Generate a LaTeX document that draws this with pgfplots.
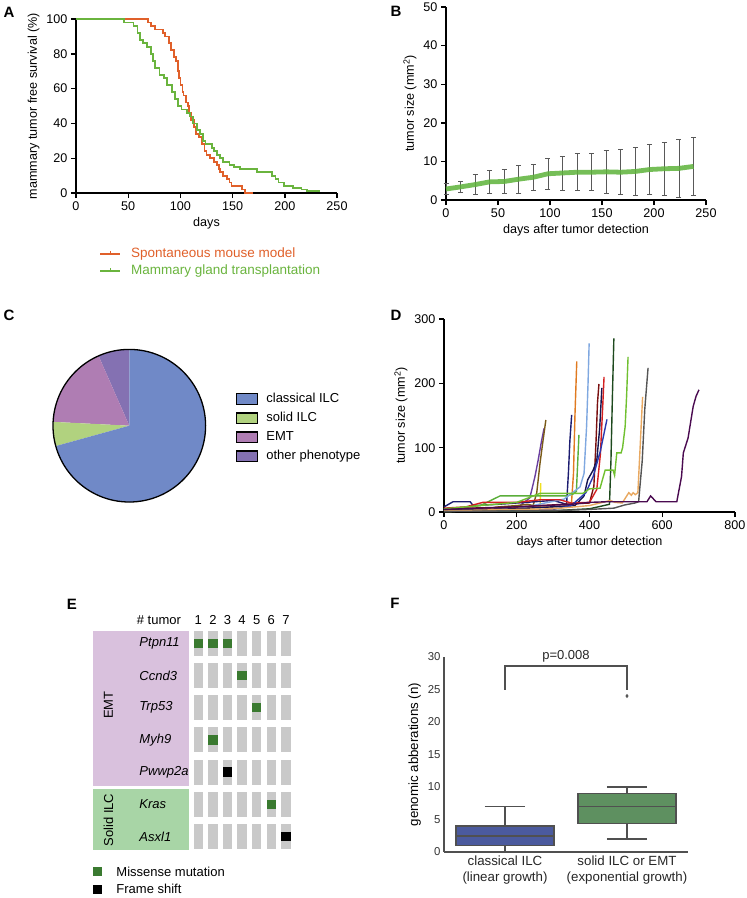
\documentclass[border=0pt]{standalone}
\usepackage{pgfplots}
\pgfplotsset{compat=1.18}
\usepgfplotslibrary{statistics}
\usepackage{fontspec}
\setmainfont{Liberation Sans}

\definecolor{Ared}{HTML}{E0602A}
\definecolor{Agreen}{HTML}{6AB43E}
\definecolor{Bgreen}{HTML}{5DB33A}
\definecolor{Cblue}{HTML}{7089C7}
\definecolor{Cgreen}{HTML}{B1D27F}
\definecolor{Cpink}{HTML}{AF7DB3}
\definecolor{Cviolet}{HTML}{8471B2}
\definecolor{Dpurple}{HTML}{6A3FA0}
\definecolor{Dbrown}{HTML}{7A5A18}
\definecolor{Dyellow}{HTML}{F0E020}
\definecolor{Dnavy}{HTML}{1C1C70}
\definecolor{Dorange}{HTML}{E07A20}
\definecolor{Dgreen}{HTML}{5AAE3A}
\definecolor{Dlblue}{HTML}{7FA8E0}
\definecolor{Dmaroon}{HTML}{7A1010}
\definecolor{Dred}{HTML}{D42020}
\definecolor{Dblue}{HTML}{2A3AB0}
\definecolor{Dnavyb}{HTML}{151550}
\definecolor{Ddgreen}{HTML}{1E4A1E}
\definecolor{Dlime}{HTML}{70C030}
\definecolor{Dtan}{HTML}{E8A860}
\definecolor{Dgray}{HTML}{555555}
\definecolor{Ddpurple}{HTML}{4A0A50}
\definecolor{Epurple}{HTML}{D9C1DD}
\definecolor{Egreen}{HTML}{A8D5A6}
\definecolor{Egray}{HTML}{C9C9C9}
\definecolor{Emiss}{HTML}{3A7A30}
\definecolor{Fblue}{HTML}{4B5A9E}
\definecolor{Fgreen}{HTML}{5E9060}
\definecolor{Fline}{HTML}{505050}

\newcommand\ft{\fontsize{12.6pt}{15pt}\selectfont}
\newcommand\fl{\fontsize{13pt}{15.6pt}\selectfont}
\newcommand\fa{\fontsize{13.5pt}{16pt}\selectfont}
\newcommand\fe{\fontsize{13pt}{15.6pt}\selectfont}
\newcommand\ff{\fontsize{11.4pt}{13.5pt}\selectfont}
\newcommand\fx{\fontsize{13.3pt}{16pt}\selectfont}
\newcommand\fp{\fontsize{15pt}{18pt}\selectfont\bfseries}

\pgfplotsset{
  panel/.style={
    scale only axis, axis lines=left, enlargelimits=false,
    axis line style={-, line width=1.4pt},
    tick align=outside, major tick length=5pt,
    tick style={line width=1.4pt, black},
    tick label style={font=\ft}, label style={font=\ft},
    /pgf/number format/assume math mode=true,
    clip=false,
  },
}

% panel B: mean tumour size with SD
\pgfplotstableread{
x y e
0 2.85 1.35
14 3.4 1.4
28 4.0 2.6
42 4.7 3.0
56 4.8 3.2
70 5.4 3.6
84 5.9 3.4
98 6.8 4.1
112 7.0 4.4
126 7.2 4.8
140 7.2 4.8
154 7.3 5.5
168 7.2 5.8
182 7.4 6.2
196 7.9 6.5
210 8.1 6.8
224 8.2 7.6
238 8.7 7.6
}\growthB

% panel C: phenotype shares (%)
\def\pClassical{70.7}
\def\pSolid{5.1}
\def\pEMT{17.6}
\def\pOther{6.6}

\begin{document}
\begin{tikzpicture}
\useasboundingbox (0,0) rectangle (747pt,-898pt);

% ---------------- A ----------------
\begin{axis}[panel, at={(76pt,-193pt)}, anchor=south west,
  width=261pt, height=174pt,
  xmin=0, xmax=250, ymin=0, ymax=100,
  xtick={0,50,...,250}, ytick={0,20,...,100},
  xlabel={days}, ylabel={mammary tumor free survival (\%)},
  legend style={at={(0.088,-0.316)}, anchor=north west, draw=none, fill=none,
    font=\fa, inner sep=0pt, row sep=5pt,
    nodes={inner sep=0pt, text height=9.5pt, text depth=2.5pt}},
  legend cell align=left,
  /tikz/every odd column/.append style={column sep=10pt},
  legend image code/.code={
    \draw[#1, line width=2pt] (0pt,0pt) -- (20pt,0pt);
    \draw[#1, line width=1pt] (10pt,-1pt) -- (10pt,3pt);},
]
\addplot[const plot, Ared, line width=1.8pt] coordinates {
(0,100) (69,98) (72,96) (76,94) (83,92) (85,90) (89,86) (91,82) (94,78)
(96,76) (98,70) (99,66) (100,62) (102,58) (103,56) (105,52) (107,50)
(108,46) (110,42) (113,38) (115,34) (118,32) (121,28) (123,24) (125,22)
(128,20) (132,18) (135,16) (137,14) (138,12) (141,10) (145,8) (147,6)
(149,4) (159,2) (162,0) (170,0)};
\addlegendentry{\textcolor{Ared}{Spontaneous mouse model}}
\addplot[const plot, Agreen, line width=1.8pt] coordinates {
(0,100) (46,98) (55,96) (59,92) (61,88) (64,86) (68,84) (72,80) (74,76)
(76,72) (80,68) (84,66) (87,62) (92,58) (95,54) (98,50) (101,48) (106,46)
(109,44) (112,40) (116,36) (119,34) (122,30) (124,28) (130,26) (132,24)
(135,22) (138,20) (141,18) (147,16) (151,15) (157,14) (173,12) (188,10)
(191,8) (194,6) (199,4) (208,3) (216,2) (221,1) (234,1)};
\addlegendentry{\textcolor{Agreen}{Mammary gland transplantation}}
\end{axis}

% ---------------- B ----------------
\begin{axis}[panel, at={(446pt,-200pt)}, anchor=south west,
  width=260pt, height=193pt,
  xmin=0, xmax=250, ymin=0, ymax=50,
  xtick={0,50,...,250}, ytick={0,10,...,50},
  xlabel={days after tumor detection}, ylabel={tumor size (mm\textsuperscript{2})},
]
\addplot[draw=none, mark=none, forget plot,
  error bars/.cd, y dir=both, y explicit,
  error bar style={draw=black!65, line width=0.7pt, solid},
  error mark options={rotate=90, mark size=2.5pt, draw=black!65, line width=0.7pt}]
  table[x=x, y=y, y error=e] {\growthB};
\addplot[Bgreen, line width=4.8pt, opacity=0.85] table[x=x, y=y] {\growthB};
\end{axis}

% ---------------- C ----------------
\begin{axis}[hide axis, scale only axis, clip=false,
  at={(129.3pt,-425.7pt)}, anchor=center, width=152.6pt, height=152.6pt,
  xmin=-1, xmax=1, ymin=-1, ymax=1,
  legend style={at={(1.199,0.714)}, anchor=north west, draw=none, fill=none,
    font=\fl, inner sep=0pt, row sep=7.2pt,
    nodes={inner sep=0pt, text height=9pt, text depth=2.5pt}},
  legend cell align=left,
  /tikz/every odd column/.append style={column sep=8pt},
  legend image code/.code={\draw[#1, draw=black, line width=1.2pt] (0pt,-5pt) rectangle (21pt,5.5pt);},
]
\pgfmathsetmacro\aA{90}
\pgfmathsetmacro\aB{\aA+3.6*\pOther}
\pgfmathsetmacro\aC{\aB+3.6*\pEMT}
\pgfmathsetmacro\aD{\aC+3.6*\pSolid}
\pgfmathsetmacro\aE{\aD+3.6*\pClassical}
\fill[Cviolet] (axis cs:0,0) -- ++(\aA:76.3pt) arc[start angle=\aA, end angle=\aB, radius=76.3pt] -- cycle;
\fill[Cpink] (axis cs:0,0) -- ++(\aB:76.3pt) arc[start angle=\aB, end angle=\aC, radius=76.3pt] -- cycle;
\fill[Cgreen] (axis cs:0,0) -- ++(\aC:76.3pt) arc[start angle=\aC, end angle=\aD, radius=76.3pt] -- cycle;
\fill[Cblue] (axis cs:0,0) -- ++(\aD:76.3pt) arc[start angle=\aD, end angle=\aE, radius=76.3pt] -- cycle;
\draw[line width=1.3pt] (axis cs:0,0) circle[radius=76.3pt];
\addlegendimage{fill=Cblue}\addlegendentry{classical ILC}
\addlegendimage{fill=Cgreen}\addlegendentry{solid ILC}
\addlegendimage{fill=Cpink}\addlegendentry{EMT}
\addlegendimage{fill=Cviolet}\addlegendentry{other phenotype}
\end{axis}

% ---------------- D ----------------
\begin{axis}[panel, at={(444pt,-512pt)}, anchor=south west,
  width=291pt, height=193pt,
  xmin=0, xmax=800, ymin=0, ymax=300,
  xtick={0,200,...,800}, ytick={0,100,200,300},
  xlabel={days after tumor detection}, ylabel={tumor size (mm\textsuperscript{2})},
  every axis plot/.append style={line width=1.4pt, mark=none},
]
\addplot[Dyellow] coordinates {(0,1) (200,2) (264,3) (266,45)};
\addplot[Dpurple] coordinates {(0,3) (100,5) (200,6) (236,22) (250,55) (259,81) (268,110) (275,130)};
\addplot[Dbrown] coordinates {(0,2) (100,3) (150,8) (200,10) (230,12) (245,10) (255,30) (264,76) (272,110) (280,143)};
\addplot[Dnavy] coordinates {(0,8) (25,16) (72,16) (80,10) (150,12) (250,16) (300,18) (337,12) (342,60) (346,110) (351,151)};
\addplot[Dorange] coordinates {(0,4) (200,6) (300,8) (350,10) (356,60) (360,150) (365,234)};
\addplot[Dgreen] coordinates {(0,4) (100,10) (154,25) (338,25) (355,28) (364,32) (367,70) (371,120)};
\addplot[Dlblue] coordinates {(0,2) (200,5) (330,20) (374,39) (385,60) (392,133) (396,200) (399,262)};
\addplot[Dmaroon] coordinates {(0,5) (200,8) (330,12) (400,14) (412,40) (418,110) (422,170) (426,199)};
\addplot[Dnavyb] coordinates {(0,3) (200,5) (360,10) (385,25) (395,50) (410,65) (420,80) (428,130) (434,193)};
\addplot[Dred] coordinates {(0,6) (60,8) (107,15) (200,15) (264,19) (319,19) (350,14) (400,15) (420,35) (430,90) (436,160) (440,210)};
\addplot[Dblue] coordinates {(0,1) (200,2) (300,4) (350,10) (390,30) (410,55) (430,95) (448,144)};
\addplot[Ddgreen] coordinates {(0,1) (300,2) (400,5) (455,12) (459,80) (463,180) (467,270)};
\addplot[Dlime] coordinates {(0,5) (200,15) (264,29) (382,29) (400,36) (429,37) (443,65) (465,65) (469,57) (475,92) (487,92) (491,100) (498,133) (502,180) (506,241)};
\addplot[Dtan] coordinates {(0,2) (300,5) (400,10) (457,18) (470,15) (490,14) (508,30) (515,26) (520,30) (526,27) (533,30) (540,110) (546,179)};
\addplot[Dgray] coordinates {(0,1) (300,2) (400,4) (467,6) (497,11) (525,14) (535,16) (545,80) (552,160) (561,224)};
\addplot[Ddpurple] coordinates {(0,4) (200,8) (350,12) (400,15) (450,16) (558,16) (568,25) (583,16) (640,16) (653,55) (658,92) (671,115) (685,164) (693,180) (701,190)};
\end{axis}

% ---------------- E ----------------
\begin{axis}[hide axis, scale only axis, clip=false,
  at={(81.5pt,-611.1pt)}, anchor=north west, width=219pt, height=257.6pt,
  xmin=-7, xmax=8, ymin=0, ymax=8, y dir=reverse,
]
\addplot[fill=Epurple, draw=none] coordinates {(-6.21,0.61) (0.36,0.61) (0.36,5.42) (-6.21,5.42)} -- cycle;
\addplot[fill=Egreen, draw=none] coordinates {(-6.21,5.53) (0.36,5.53) (0.36,7.42) (-6.21,7.42)} -- cycle;
\addplot[Egray, only marks, mark=square*, mark size=4.15pt,
  mark options={yscale=2.9, fill=Egray, draw=Egray, line width=0pt}] coordinates {
(1,1) (2,1) (3,1) (4,1) (5,1) (6,1) (7,1)
(1,2) (2,2) (3,2) (4,2) (5,2) (6,2) (7,2)
(1,3) (2,3) (3,3) (4,3) (5,3) (6,3) (7,3)
(1,4) (2,4) (3,4) (4,4) (5,4) (6,4) (7,4)
(1,5) (2,5) (3,5) (4,5) (5,5) (6,5) (7,5)
(1,6) (2,6) (3,6) (4,6) (5,6) (6,6) (7,6)
(1,7) (2,7) (3,7) (4,7) (5,7) (6,7) (7,7)};
% missense mutations
\addplot[Emiss, only marks, mark=square*, mark size=4.2pt, mark options={fill=Emiss, draw=Emiss, line width=0pt}]
  coordinates {(1,1) (2,1) (3,1) (4,2) (5,3) (2,4) (6,6) (-5.89,8.09)};
% frame shifts
\addplot[black, only marks, mark=square*, mark size=4.2pt, mark options={fill=black, draw=black, line width=0pt}]
  coordinates {(3,5) (7,7) (-5.89,8.64)};
\node[anchor=west, font=\fe] at (axis cs:-3.45,0.28) {\# tumor};
\pgfplotsinvokeforeach{1,...,7}{\node[font=\fe] at (axis cs:#1,0.28) {#1};}
\node[anchor=west, font=\fe\itshape] at (axis cs:-3.27,1) {Ptpn11};
\node[anchor=west, font=\fe\itshape] at (axis cs:-3.27,2) {Ccnd3};
\node[anchor=west, font=\fe\itshape] at (axis cs:-3.27,3) {Trp53};
\node[anchor=west, font=\fe\itshape] at (axis cs:-3.27,4) {Myh9};
\node[anchor=west, font=\fe\itshape] at (axis cs:-3.27,5) {Pwwp2a};
\node[anchor=west, font=\fe\itshape] at (axis cs:-3.27,6) {Kras};
\node[anchor=west, font=\fe\itshape] at (axis cs:-3.27,7) {Asxl1};
\node[rotate=90, font=\fe] at (axis cs:-5.16,2.92) {EMT};
\node[rotate=90, font=\fe] at (axis cs:-5.16,6.49) {Solid ILC};
\node[anchor=west, font=\fl] at (axis cs:-4.85,8.09) {Missense mutation};
\node[anchor=west, font=\fl] at (axis cs:-4.85,8.64) {Frame shift};
\end{axis}

% ---------------- F ----------------
\begin{axis}[scale only axis, clip=false,
  at={(444pt,-852pt)}, anchor=south west, width=244pt, height=195pt,
  xmin=-0.5, xmax=1.5, ymin=0, ymax=30,
  axis lines=left, axis line style={-, draw=Fline, line width=1.3pt},
  major tick length=0pt,
  ytick={0,5,...,30}, xtick={0,1},
  xticklabels={{classical ILC\\(linear growth)},{solid ILC or EMT\\(exponential growth)}},
  xticklabel style={align=center, font=\fx, text=black!85},
  yticklabel style={font=\ff, text=black!80},
  ylabel={genomic abberations (n)}, ylabel style={font=\fx},
  /pgf/number format/assume math mode=true,
  boxplot/draw direction=y,
  boxplot/box extend=0.8, boxplot/whisker extend=0.33,
]
\addplot+[boxplot prepared={lower whisker=0, lower quartile=1, median=2.5,
  upper quartile=4, upper whisker=7, draw position=0},
  fill=Fblue, draw=Fline, line width=1.8pt, solid, mark=none] coordinates {};
\addplot+[boxplot prepared={lower whisker=2, lower quartile=4.4, median=7,
  upper quartile=9, upper whisker=10, draw position=1},
  fill=Fgreen, draw=Fline, line width=1.8pt, solid,
  mark=diamond*, mark size=1.6pt, mark options={fill=Fline, draw=Fline, line width=0.5pt}]
  table[row sep=\\, y index=0] {n\\ 24\\};
% medians, drawn thick as in the reference
\addplot[Fline, line width=1.8pt, mark=none] coordinates {(-0.4,2.5) (0.4,2.5)};
\addplot[Fline, line width=1.8pt, mark=none] coordinates {(0.6,7) (1.4,7)};
\addplot[Fline, line width=1.3pt, mark=none] coordinates {(0,25) (0,28.6) (1,28.6) (1,25)};
\node[above, font=\fe, text=black!85] at (axis cs:0.5,28.7) {p=0.008};
\end{axis}

% panel letters
\node[font=\fp] at (9pt,-12pt) {A};
\node[font=\fp] at (396pt,-11pt) {B};
\node[font=\fp] at (9pt,-315pt) {C};
\node[font=\fp] at (396pt,-315pt) {D};
\node[font=\fp] at (72pt,-604pt) {E};
\node[font=\fp] at (395pt,-603pt) {F};
\end{tikzpicture}
\end{document}
